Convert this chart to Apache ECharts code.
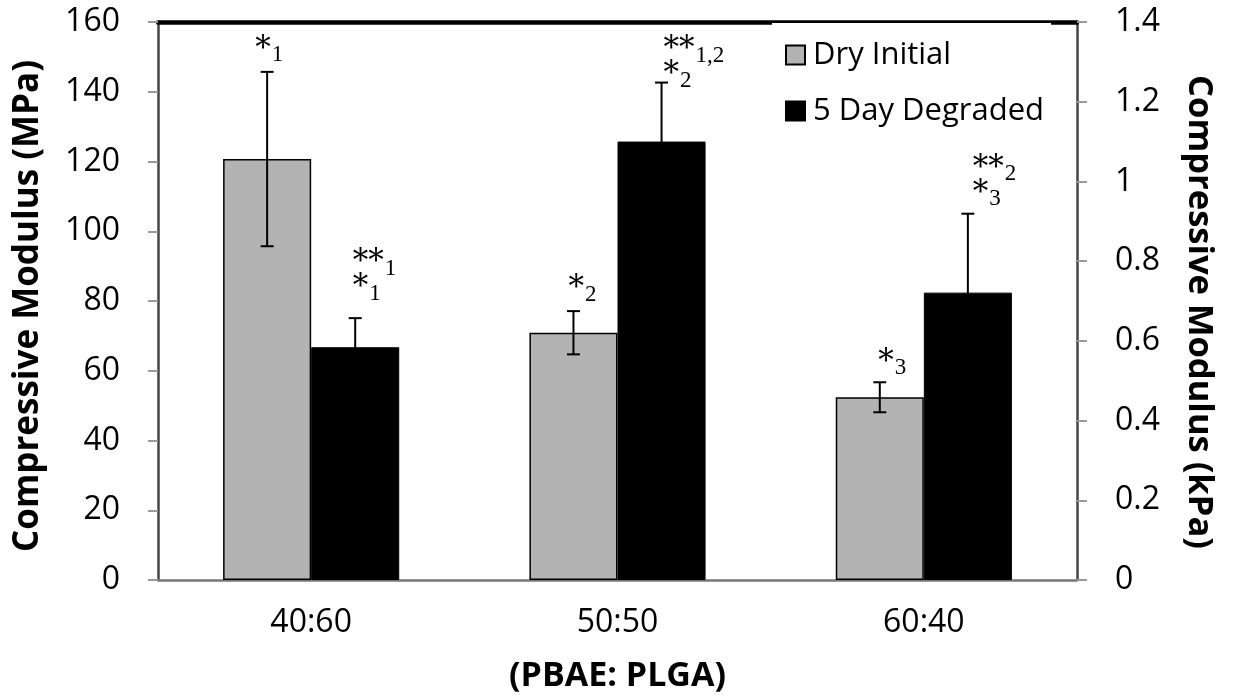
<!DOCTYPE html>
<html>
<head>
<meta charset="utf-8">
<script src="https://cdn.jsdelivr.net/npm/echarts@6/dist/echarts.min.js"></script>
<style>
html,body{margin:0;padding:0;background:#fff;}
#chart{width:1236px;height:698px;}
</style>
</head>
<body>
<div id="chart"></div>
<script>
const categories = ['40:60', '50:50', '60:40'];
const dryInitial = [120.7, 70.9, 52.4];      // MPa (left axis)
const dryInitialErr = [25, 6.2, 4.3];
const degraded = [0.584, 1.10, 0.721];        // kPa (right axis)
const degradedErr = [0.073, 0.148, 0.198];
const leftTicks = [0, 160, 20];
const rightTicks = [0, 1.4, 0.2];
const dryNotes = [[['*', '1']], [['*', '2']], [['*', '3']]];
const degradedNotes = [[['**', '1'], ['*', '1']], [['**', '1,2'], ['*', '2']], [['**', '2'], ['*', '3']]];

// layout only: hand-placed nudges of each annotation (px)
const dryNoteNudge = [[-9, 0], [-2, 0], [1.5, 2.4]];
const degradedNoteNudge = [[0.5, -8], [5, 14.4], [8, 1.7]];

const SANS = '"Open Sans", "DejaVu Sans", sans-serif';
const STAR_FONT = '31px "DejaVu Serif", serif';
const SUB_FONT = '23px "Liberation Serif", serif';
const CAT_GAP = 0.425;

function errorSeries(name, values, errs, notes, nudges, side, yAxisIndex) {
  return {
    type: 'custom',
    name: name + ' error',
    yAxisIndex: yAxisIndex,
    z: 5,
    silent: true,
    data: values.map((v, i) => [i, v, errs[i]]),
    renderItem: function (params, api) {
      const i = api.value(0), v = api.value(1), e = api.value(2);
      const band = api.size([1, 0])[0];
      const bw = band * (1 - CAT_GAP) / 2;
      const c = api.coord([i, v]);
      const x = c[0] + side * bw / 2;
      const yTop = api.coord([i, v + e])[1];
      const yBot = api.coord([i, v - e])[1];
      const cap = 6.5;
      const ls = { stroke: '#000', lineWidth: 2 };
      const children = [
        { type: 'line', shape: { x1: x, y1: yTop, x2: x, y2: yBot }, style: ls },
        { type: 'line', shape: { x1: x - cap, y1: yTop, x2: x + cap, y2: yTop }, style: ls },
        { type: 'line', shape: { x1: x - cap, y1: yBot, x2: x + cap, y2: yBot }, style: ls }
      ];
      const lines = notes[i];
      const nd = nudges[i];
      const n = lines.length;
      lines.forEach((ln, k) => {
        const base = yTop - 16.5 - (n - 1 - k) * 25 + nd[1];
        const x0 = x - 3 + nd[0];
        children.push({
          type: 'text', x: x0, y: base - 5.2,
          style: { text: ln[0], fill: '#000', font: STAR_FONT, textAlign: 'left', verticalAlign: 'middle' }
        });
        children.push({
          type: 'text', x: x0 + ln[0].length * 15.5 + 1, y: base,
          style: { text: ln[1], fill: '#000', font: SUB_FONT, textAlign: 'left', verticalAlign: 'middle' }
        });
      });
      return { type: 'group', children: children };
    }
  };
}

const chart = echarts.init(document.getElementById('chart'), null, { renderer: 'canvas' });
chart.setOption({
  animation: false,
  backgroundColor: '#fff',
  textStyle: { fontFamily: SANS },
  grid: { left: 158, right: 159, top: 22, bottom: 115, containLabel: false },
  legend: {
    orient: 'vertical',
    left: 772, top: 23,
    padding: [14, 7, 10, 13],
    backgroundColor: '#fff',
    z: 10,
    itemWidth: 19, itemHeight: 19, itemGap: 20,
    icon: 'rect',
    data: ['Dry Initial', '5 Day Degraded'],
    textStyle: { fontSize: 31, color: '#000', fontFamily: SANS, lineHeight: 36, padding: [0, 0, 0, 3] }
  },
  xAxis: [{
    type: 'category',
    data: categories,
    name: '(PBAE: PLGA)',
    nameLocation: 'middle',
    nameGap: 79,
    nameTextStyle: { fontSize: 34, fontWeight: 'bold', color: '#000', fontFamily: SANS },
    axisLine: { lineStyle: { color: '#777', width: 2.5 } },
    axisTick: { length: 11, lineStyle: { color: '#999', width: 2 } },
    axisLabel: { fontSize: 32, color: '#000', margin: 27, fontFamily: SANS }
  }, {
    type: 'category',
    data: categories,
    position: 'top',
    axisLine: { onZero: false, lineStyle: { color: '#000', width: 4.5 } },
    axisTick: { show: false },
    axisLabel: { show: false }
  }],
  yAxis: [{
    type: 'value',
    min: leftTicks[0], max: leftTicks[1], interval: leftTicks[2],
    name: 'Compressive Modulus (MPa)',
    nameLocation: 'middle',
    nameRotate: 90,
    nameGap: 112,
    nameTextStyle: { fontSize: 35, fontWeight: 'bold', color: '#000', fontFamily: SANS, padding: [0, 10, 0, 0] },
    axisLine: { show: true, lineStyle: { color: '#444', width: 2.5 } },
    axisTick: { show: true, length: 10, lineStyle: { color: '#999', width: 2 } },
    axisLabel: { fontSize: 32, color: '#000', margin: 38, fontFamily: SANS, padding: [8, 0, 0, 0] },
    splitLine: { show: false }
  }, {
    type: 'value',
    position: 'right',
    min: rightTicks[0], max: rightTicks[1], interval: rightTicks[2],
    name: 'Compressive Modulus (kPa)',
    nameLocation: 'middle',
    nameRotate: -90,
    nameGap: 104,
    nameTextStyle: { fontSize: 34.5, fontWeight: 'bold', color: '#000', fontFamily: SANS, padding: [0, 0, 0, 22] },
    axisLine: { show: true, lineStyle: { color: '#444', width: 2.5 } },
    axisTick: { show: true, length: 10, lineStyle: { color: '#999', width: 2 } },
    axisLabel: { fontSize: 32, color: '#000', margin: 38, fontFamily: SANS, padding: [9, 0, 0, 0], formatter: v => String(+v.toFixed(1)) },
    splitLine: { show: false }
  }],
  series: [{
    type: 'bar',
    name: 'Dry Initial',
    yAxisIndex: 0,
    data: dryInitial,
    barGap: '0%',
    barCategoryGap: (CAT_GAP * 100) + '%',
    itemStyle: { color: '#b3b3b3', borderColor: '#000', borderWidth: 1.5 }
  }, {
    type: 'bar',
    name: '5 Day Degraded',
    yAxisIndex: 1,
    data: degraded,
    barGap: '0%',
    barCategoryGap: (CAT_GAP * 100) + '%',
    itemStyle: { color: '#000', borderColor: '#000', borderWidth: 1 }
  },
  errorSeries('Dry Initial', dryInitial, dryInitialErr, dryNotes, dryNoteNudge, -1, 0),
  errorSeries('5 Day Degraded', degraded, degradedErr, degradedNotes, degradedNoteNudge, 1, 1)
  ]
});
</script>
</body>
</html>
